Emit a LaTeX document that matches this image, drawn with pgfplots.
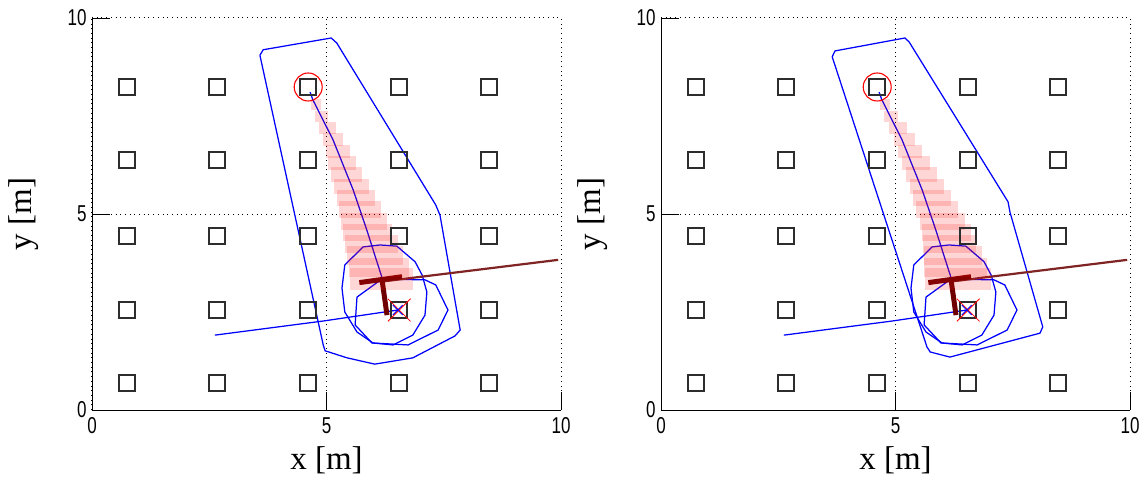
\documentclass[border=0pt]{standalone}
\usepackage{fontspec}
\setmainfont{Liberation Serif}
\newfontfamily\tickfont{Liberation Sans}
\usepackage{graphicx}
\usepackage{pgfplots}
\pgfplotsset{compat=1.18}
\usepackage{pgfplotstable}

\definecolor{mblue}{RGB}{0,0,255}
\definecolor{dred}{RGB}{110,0,0}
\definecolor{tred}{RGB}{128,35,35}
\definecolor{sqgray}{RGB}{45,45,45}

\pgfdeclareplotmark{prect}{%
  \pgfpathrectangle{\pgfpoint{-0.5*\rw*1pt}{-0.5*\rh*1pt}}{\pgfpoint{\rw*1pt}{\rh*1pt}}%
  \pgfusepath{fill}}

% pink uncertainty rectangles (x, y in m; w, h in pt)
\pgfplotstableread{
x y w h
4.766 7.781 10.0 11
4.889 7.485 13.5 11.6
5.013 7.189 17.1 12.2
5.136 6.893 20.6 12.8
5.237 6.597 24.1 13.4
5.335 6.301 27.7 14
5.433 6.005 31.2 14.6
5.533 5.709 34.7 15.2
5.623 5.413 38.3 15.8
5.710 5.117 41.8 16.4
5.797 4.821 45.3 17
5.881 4.526 48.9 17.6
5.959 4.230 52.4 18.2
6.040 3.934 55.9 18.8
6.117 3.638 59.5 19.4
6.183 3.342 63.0 22
}\pinkA
\pgfplotstableread{
x y w h
4.766 7.781 10.0 11
4.909 7.485 13.5 11.6
5.053 7.189 17.1 12.2
5.196 6.893 20.6 12.8
5.317 6.597 24.1 13.4
5.435 6.301 27.7 14
5.553 6.005 31.2 14.6
5.673 5.709 34.7 15.2
5.783 5.413 38.3 15.8
5.890 5.117 41.8 16.4
5.997 4.821 45.3 17
6.081 4.526 48.9 17.6
6.149 4.230 53.4 18.2
6.220 3.934 57.9 18.8
6.277 3.638 62.5 19.4
6.323 3.342 66.0 22
}\pinkB

\pgfplotstableread{
x y
0.75 0.69
0.75 2.55
0.75 4.44
0.75 6.38
0.75 8.24
2.67 0.69
2.67 2.55
2.67 4.44
2.67 6.38
2.67 8.24
4.60 0.69
4.60 2.55
4.60 4.44
4.60 6.38
4.60 8.24
6.55 0.69
6.55 2.55
6.55 4.44
6.55 6.38
6.55 8.24
8.46 0.69
8.46 2.55
8.46 4.44
8.46 6.38
8.46 8.24
}\landmarks

\pgfplotstableread{
x y
3.58 9.05
3.65 9.19
5.10 9.49
5.22 9.36
7.33 5.23
7.42 4.97
7.85 2.04
7.74 1.89
6.84 1.33
6.03 1.17
5.44 1.33
4.97 1.51
4.93 1.66
3.58 9.05
}\hullA
\pgfplotstableread{
x y
3.65 9.01
3.71 9.16
5.20 9.49
5.29 9.39
7.40 5.31
7.44 5.05
8.14 2.12
8.08 1.96
6.16 1.35
5.74 1.48
5.67 1.61
3.65 9.01
}\hullB

\pgfplotstableread{
x y
4.65 8.11
4.71 7.91
5.14 6.89
5.57 5.61
5.86 4.59
6.03 3.95
6.18 3.39
}\pathmain

\pgfplotstableread{
x y
2.62 1.91
4.93 2.27
6.52 2.55
}\pathin

\pgfplotstableread{
x y
5.39 3.70
5.78 4.16
6.14 4.21
6.50 4.18
6.89 3.78
7.04 3.44
7.14 3.01
7.10 2.42
6.84 1.91
6.42 1.66
5.99 1.71
5.65 1.99
5.39 2.50
5.33 3.11
5.39 3.70
}\loopB

\pgfplotstableread{
x y
6.18 3.34
5.65 2.88
5.61 2.17
5.97 1.71
6.74 1.66
7.38 2.04
7.59 2.55
7.33 3.19
7.10 3.32
6.18 3.34
}\loopC

\pgfplotsset{
  myaxis/.style={
    width=469pt, height=392pt, scale only axis,
    xmin=0, xmax=10, ymin=0, ymax=10,
    xtick={0,5,10}, ytick={0,5,10},
    axis x line*=bottom, axis y line*=left,
    axis line style={-, black, line width=0.9pt},
    tick align=inside, major tick length=18pt,
    tick style={black, line width=0.9pt},
    grid=major,
    major grid style={black, line width=1pt, dash pattern=on 1pt off 3.7pt},
    /pgf/number format/assume math mode=true,
    xticklabel={\scalebox{1}[1.35]{\pgfmathprintnumber{\tick}}},
    yticklabel={\scalebox{1}[1.35]{\pgfmathprintnumber{\tick}}},
    ticklabel style={font=\tickfont\fontsize{17}{17}\selectfont},
    xticklabel style={yshift=-4pt},
    yticklabel style={xshift=-2pt},
    xlabel={x [m]}, ylabel={y [m]},
    label style={font=\fontsize{33}{33}\selectfont},
    xlabel style={at={(axis description cs:0.5,-0.153)}, anchor=base},
    ylabel style={at={(axis description cs:-0.13,0.5)}, anchor=base, rotate=0},
    clip=false,
  },
  pinkstyle/.style={scatter, only marks, mark=prect,
    scatter/use mapped color={fill=red},
    mark options={fill opacity=0.16, draw opacity=0},
    visualization depends on={\thisrow{w} \as \rw},
    visualization depends on={\thisrow{h} \as \rh}},
  bl/.style={mblue, line width=1.25pt, no marks},
}

\begin{document}
\begin{tikzpicture}
\path[use as bounding box] (0,0) rectangle (1145pt,480pt);

\begin{axis}[myaxis, at={(92pt,70pt)}, anchor=south west]
\addplot[pinkstyle] table[x=x,y=y] {\pinkA};
\addplot[bl] table {\hullA};
\addplot[bl] table {\loopB};
\addplot[bl] table {\loopC};
\addplot[bl] table {\pathin};
\addplot[bl] table {\pathmain};
\addplot[only marks, mark=square, mark size=8pt, mark options={draw=sqgray, line width=2pt}] table {\landmarks};
\addplot[tred, line width=2.2pt, no marks] coordinates {(6.14,3.27) (9.94,3.83)};
\addplot[dred, line width=5pt, no marks] coordinates {(5.70,3.25) (6.61,3.40)};
\addplot[dred, line width=5pt, no marks] coordinates {(6.18,3.36) (6.29,2.42)};
\addplot[only marks, mark=x, mark size=16pt, mark options={red, line width=0.8pt}] coordinates {(6.55,2.55)};
\addplot[only marks, mark=x, mark size=7pt, mark options={mblue, line width=0.9pt}] coordinates {(6.52,2.55)};
\addplot[only marks, mark=o, mark size=14pt, mark options={red, line width=1.1pt}] coordinates {(4.61,8.24)};
\end{axis}

\begin{axis}[myaxis, at={(661pt,70pt)}, anchor=south west]
\addplot[pinkstyle] table[x=x,y=y] {\pinkB};
\addplot[bl] table {\hullB};
\addplot[bl] table {\loopB};
\addplot[bl] table {\loopC};
\addplot[bl] table {\pathin};
\addplot[bl] table {\pathmain};
\addplot[only marks, mark=square, mark size=8pt, mark options={draw=sqgray, line width=2pt}] table {\landmarks};
\addplot[tred, line width=2.2pt, no marks] coordinates {(6.14,3.27) (9.94,3.83)};
\addplot[dred, line width=5pt, no marks] coordinates {(5.70,3.25) (6.61,3.40)};
\addplot[dred, line width=5pt, no marks] coordinates {(6.18,3.36) (6.29,2.42)};
\addplot[only marks, mark=x, mark size=16pt, mark options={red, line width=0.8pt}] coordinates {(6.55,2.55)};
\addplot[only marks, mark=x, mark size=7pt, mark options={mblue, line width=0.9pt}] coordinates {(6.52,2.55)};
\addplot[only marks, mark=o, mark size=14pt, mark options={red, line width=1.1pt}] coordinates {(4.61,8.24)};
\end{axis}
\end{tikzpicture}
\end{document}
